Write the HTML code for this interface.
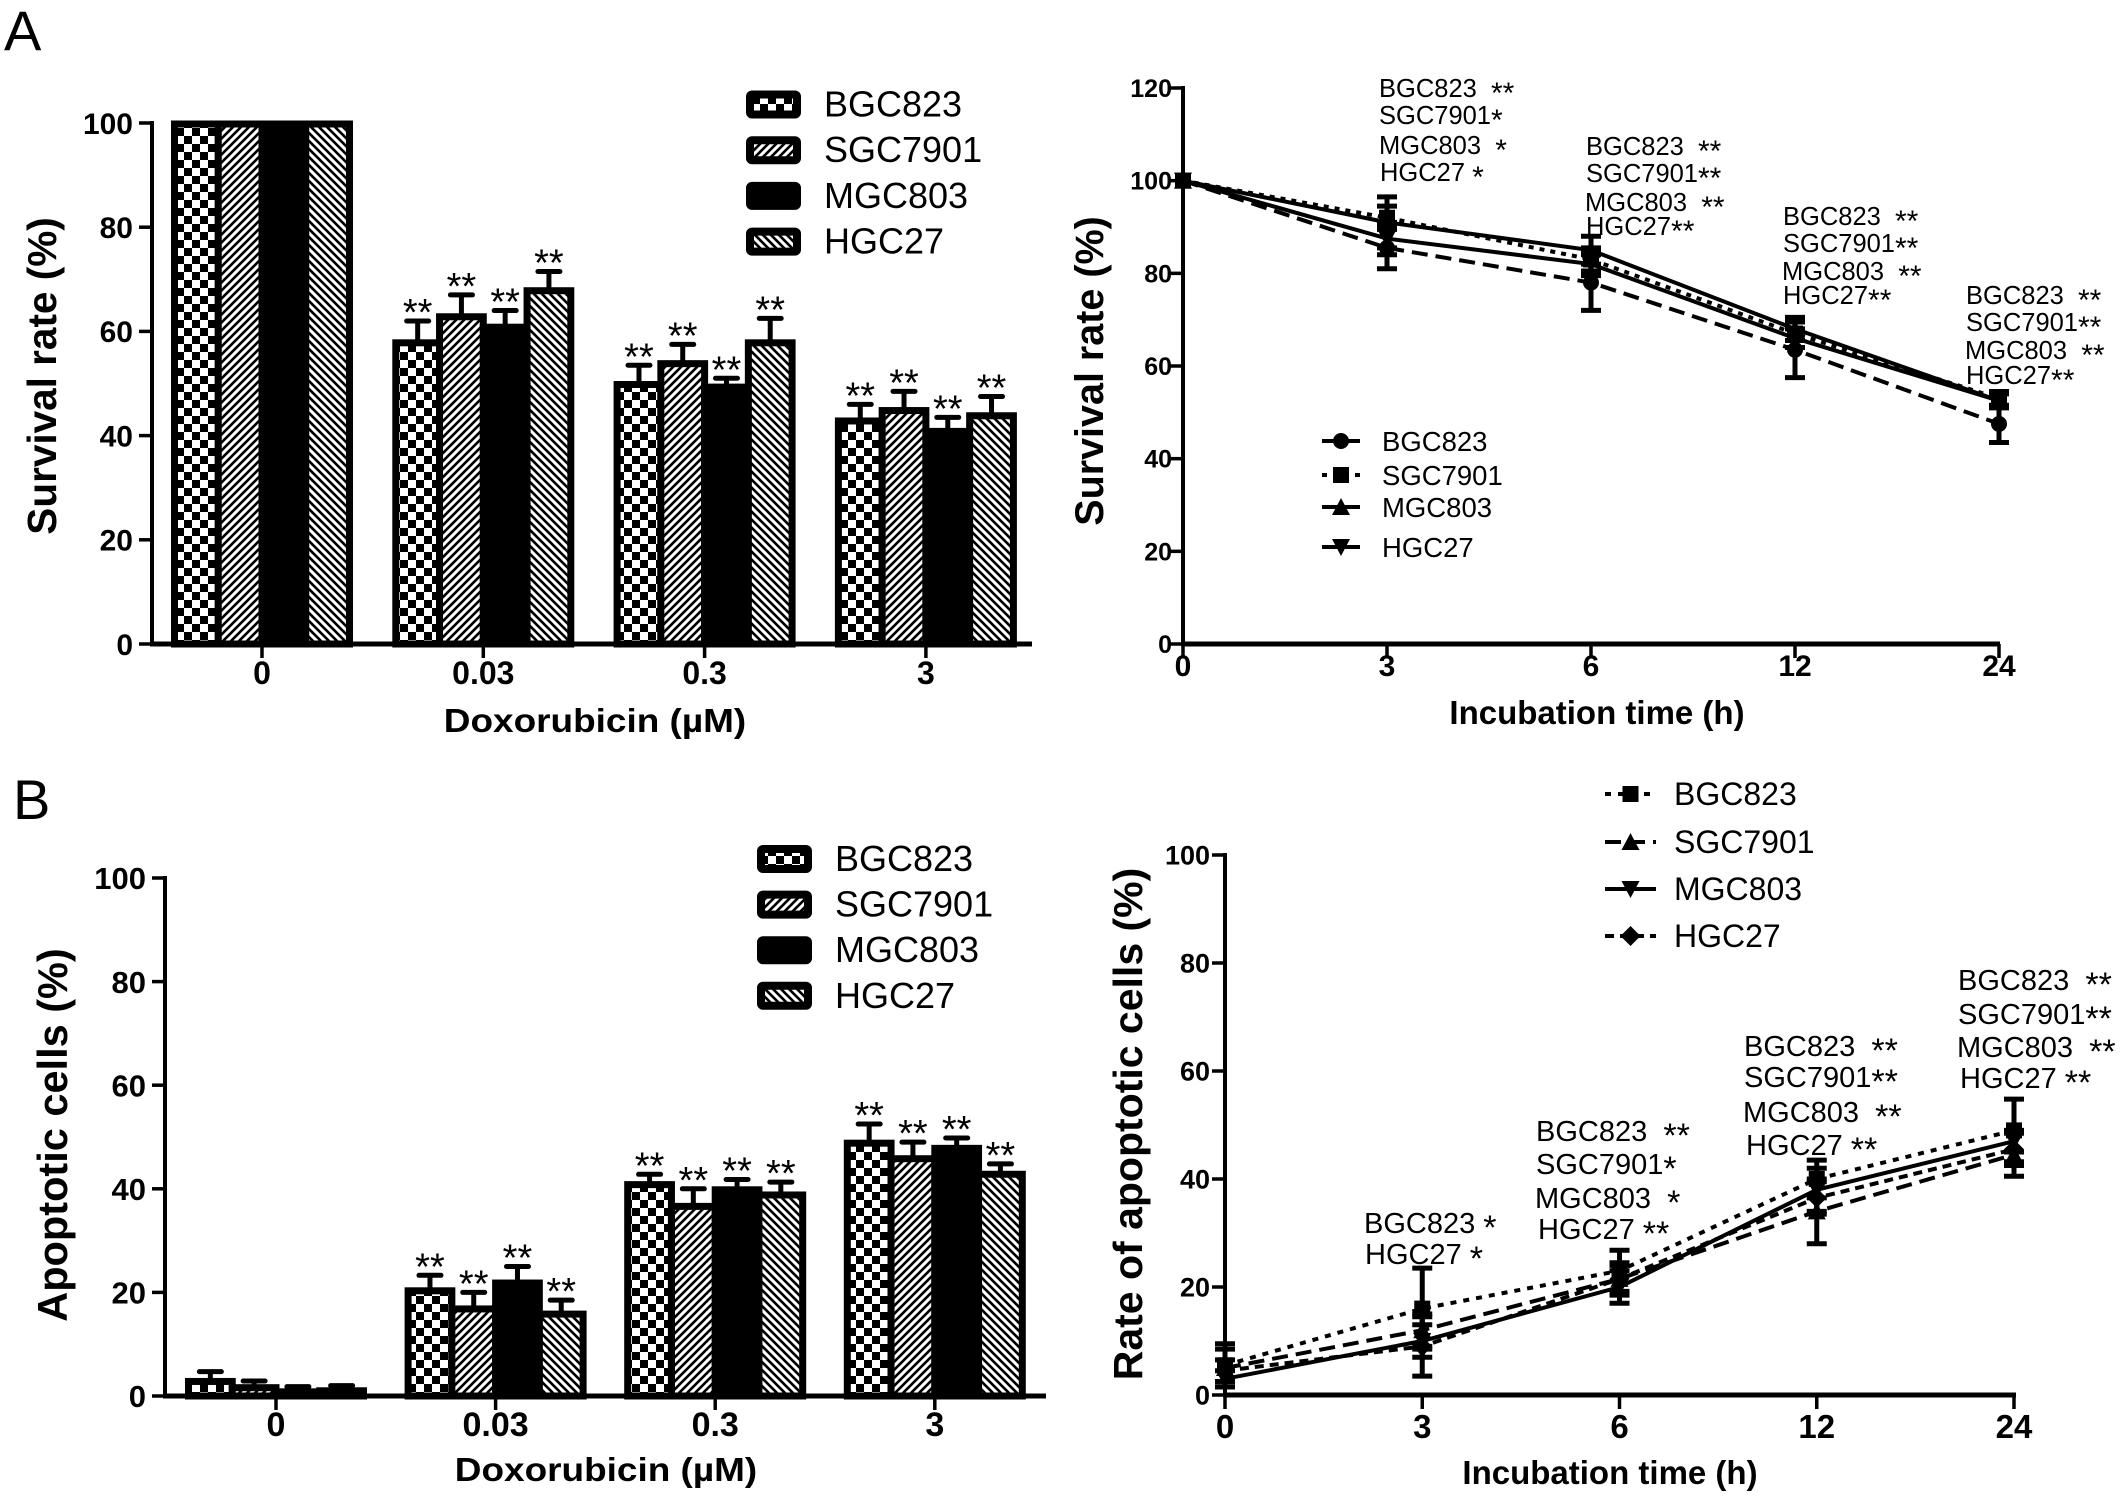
<!DOCTYPE html>
<html lang="en">
<head>
<meta charset="utf-8">
<title>Doxorubicin survival and apoptosis charts</title>
<style>
html,body{margin:0;padding:0;background:#fff;}
#fig{display:block;width:2122px;height:1507px;background:#fff;}
text{font-family:"Liberation Sans",sans-serif;fill:#000;white-space:pre;}
.bold{font-weight:700;}
.a1{font-size:25.5px;}
.a2{font-size:29px;}
.l1{font-size:36px;}
.l2{font-size:27.5px;}
.l3{font-size:32px;}
.s1{font-size:30px;}
.s2{font-size:34px;}
</style>
</head>
<body>
<svg id="fig" width="2122" height="1507" viewBox="0 0 2122 1507">
<defs>
<pattern id="checker" patternUnits="userSpaceOnUse" width="16" height="16"><rect width="16" height="16" fill="#fff"/><rect width="8" height="8" fill="#000"/><rect x="8" y="8" width="8" height="8" fill="#000"/></pattern>
<pattern id="slash" patternUnits="userSpaceOnUse" width="8" height="8"><rect width="8" height="8" fill="#fff"/><path d="M-2 10L10 -2M-2 2L2 -2M6 10L10 6" stroke="#000" stroke-width="2.6"/></pattern>
<pattern id="back" patternUnits="userSpaceOnUse" width="8" height="8"><rect width="8" height="8" fill="#fff"/><path d="M-2 -2L10 10M6 -2L10 2M-2 6L2 10" stroke="#000" stroke-width="2.6"/></pattern>
</defs>

<text x="4" y="50" font-size="56">A</text>
<text x="13" y="819" font-size="56">B</text>

<text class="bold" transform="translate(56,376) rotate(-90)" text-anchor="middle" font-size="40.5">Survival rate (%)</text>
<text class="bold" transform="translate(595,732) scale(1.12,1)" text-anchor="middle" font-size="33">Doxorubicin (µM)</text>
<text class="bold" transform="translate(1103,371) rotate(-90)" text-anchor="middle" font-size="39.5">Survival rate (%)</text>
<text class="bold" x="1597" y="724" text-anchor="middle" font-size="33">Incubation time (h)</text>
<text class="bold" transform="translate(67,1135) rotate(-90)" text-anchor="middle" font-size="41.5">Apoptotic cells (%)</text>
<text class="bold" transform="translate(606,1481) scale(1.12,1)" text-anchor="middle" font-size="33">Doxorubicin (µM)</text>
<text class="bold" transform="translate(1142,1124) rotate(-90)" text-anchor="middle" font-size="41">Rate of apoptotic cells (%)</text>
<text class="bold" x="1610" y="1484" text-anchor="middle" font-size="33">Incubation time (h)</text>

<g>
<text class="a1" x="1379" y="97">BGC823  <tspan class="s1" dy="6">**</tspan></text>
<text class="a1" x="1379" y="124">SGC7901<tspan class="s1" dy="6">*</tspan></text>
<text class="a1" x="1379" y="154">MGC803  <tspan class="s1" dy="6">*</tspan></text>
<text class="a1" x="1380" y="181">HGC27 <tspan class="s1" dy="6">*</tspan></text>
<text class="a1" x="1586" y="155">BGC823  <tspan class="s1" dy="6">**</tspan></text>
<text class="a1" x="1586" y="182">SGC7901<tspan class="s1" dy="6">**</tspan></text>
<text class="a1" x="1585" y="211">MGC803  <tspan class="s1" dy="6">**</tspan></text>
<text class="a1" x="1586" y="235">HGC27<tspan class="s1" dy="6">**</tspan></text>
<text class="a1" x="1783" y="225">BGC823  <tspan class="s1" dy="6">**</tspan></text>
<text class="a1" x="1783" y="252">SGC7901<tspan class="s1" dy="6">**</tspan></text>
<text class="a1" x="1782" y="280">MGC803  <tspan class="s1" dy="6">**</tspan></text>
<text class="a1" x="1783" y="304">HGC27<tspan class="s1" dy="6">**</tspan></text>
<text class="a1" x="1966" y="304">BGC823  <tspan class="s1" dy="6">**</tspan></text>
<text class="a1" x="1966" y="331">SGC7901<tspan class="s1" dy="6">**</tspan></text>
<text class="a1" x="1965" y="359">MGC803  <tspan class="s1" dy="6">**</tspan></text>
<text class="a1" x="1966" y="384">HGC27<tspan class="s1" dy="6">**</tspan></text>
</g>
<g>
<text class="a2" x="1364" y="1233">BGC823 <tspan class="s2" dy="6">*</tspan></text>
<text class="a2" x="1365" y="1264">HGC27 <tspan class="s2" dy="6">*</tspan></text>
<text class="a2" x="1536" y="1141">BGC823  <tspan class="s2" dy="6">**</tspan></text>
<text class="a2" x="1536" y="1174">SGC7901<tspan class="s2" dy="6">*</tspan></text>
<text class="a2" x="1535" y="1208">MGC803  <tspan class="s2" dy="6">*</tspan></text>
<text class="a2" x="1538" y="1239">HGC27 <tspan class="s2" dy="6">**</tspan></text>
<text class="a2" x="1744" y="1056">BGC823  <tspan class="s2" dy="6">**</tspan></text>
<text class="a2" x="1744" y="1087">SGC7901<tspan class="s2" dy="6">**</tspan></text>
<text class="a2" x="1743" y="1122">MGC803  <tspan class="s2" dy="6">**</tspan></text>
<text class="a2" x="1746" y="1155">HGC27 <tspan class="s2" dy="6">**</tspan></text>
<text class="a2" x="1958" y="990">BGC823  <tspan class="s2" dy="6">**</tspan></text>
<text class="a2" x="1958" y="1024">SGC7901<tspan class="s2" dy="6">**</tspan></text>
<text class="a2" x="1957" y="1057">MGC803  <tspan class="s2" dy="6">**</tspan></text>
<text class="a2" x="1960" y="1088">HGC27 <tspan class="s2" dy="6">**</tspan></text>
</g>
<g id="charts"></g>
</svg>
<script>
// ---------- chart data ----------
const cellLines = ['BGC823', 'SGC7901', 'MGC803', 'HGC27'];
const doseLabels = ['0', '0.03', '0.3', '3'];
const timeLabels = ['0', '3', '6', '12', '24'];
const ticksTo100 = [0, 20, 40, 60, 80, 100];
const ticksTo120 = [0, 20, 40, 60, 80, 100, 120];

const survivalBarBgc823 = [100, 58, 50, 43];
const survivalBarSgc7901 = [100, 63, 54, 45];
const survivalBarMgc803 = [100, 61, 49.5, 41];
const survivalBarHgc27 = [100, 68, 58, 44];
const survivalBarErrBgc823 = [0, 4, 3.5, 3];
const survivalBarErrSgc7901 = [0, 4, 3.5, 3.5];
const survivalBarErrMgc803 = [0, 3, 1.5, 2.5];
const survivalBarErrHgc27 = [0, 3.5, 4.5, 3.5];
const survivalBarStars = ['', '**', '**', '**'];

const apoptosisBarBgc823 = [3, 20.5, 41, 49];
const apoptosisBarSgc7901 = [1.8, 17, 36.8, 46];
const apoptosisBarMgc803 = [1, 22, 40, 48];
const apoptosisBarHgc27 = [1.2, 16, 39, 43];
const apoptosisBarErrBgc823 = [1.7, 2.8, 1.8, 3.5];
const apoptosisBarErrSgc7901 = [1.1, 3, 3.2, 3];
const apoptosisBarErrMgc803 = [0.8, 3, 1.8, 1.8];
const apoptosisBarErrHgc27 = [0.8, 2.5, 2.3, 1.8];
const apoptosisBarStars = ['', '**', '**', '**'];

const survivalLineBgc823 = [100, 85.5, 78, 63.5, 47.5];
const survivalLineSgc7901 = [100, 92, 83, 67, 53];
const survivalLineMgc803 = [100, 91, 85, 68, 52.5];
const survivalLineHgc27 = [100, 87.5, 82, 66, 52.5];
const survivalLineErrBgc823 = [0, 4.5, 6, 6, 4];
const survivalLineErrSgc7901 = [0, 2.5, 2.5, 3, 1.5];
const survivalLineErrMgc803 = [0, 5.5, 3, 2.5, 1.5];
const survivalLineErrHgc27 = [0, 3.5, 2.5, 2, 1.5];

const apoptosisLineBgc823 = [5.5, 16, 23, 40, 49];
const apoptosisLineSgc7901 = [5, 12, 21.5, 34, 44.5];
const apoptosisLineMgc803 = [3, 10, 20, 38, 47];
const apoptosisLineHgc27 = [4.5, 9, 21.5, 36.5, 45.5];
const apoptosisLineErrBgc823 = [4, 7.5, 3.8, 3.5, 5.8];
const apoptosisLineErrSgc7901 = [3.5, 3, 3, 6, 4];
const apoptosisLineErrMgc803 = [1.5, 3, 3, 4, 2];
const apoptosisLineErrHgc27 = [2, 5.5, 2.5, 3, 3];

// ---------- helpers ----------
const root = document.getElementById('charts');
const NS = root.namespaceURI;
function mk(parent, tag, attrs, content) {
  const el = document.createElementNS(NS, tag);
  for (const k in attrs) el.setAttribute(k, attrs[k]);
  if (content !== undefined) el.textContent = content;
  parent.appendChild(el);
  return el;
}
function yOf(p, v) { return p.y0 - (v / p.yMax) * (p.y0 - p.yTop); }
function timeX(p, i) { return p.xStart + i * (p.xEnd - p.xStart) / (timeLabels.length - 1); }
function barLeft(p, g, s) { return p.x0 + g * p.groupStep + s * p.barStep; }
function groupCenter(p, g) { return p.x0 + g * p.groupStep + p.barStep * 2; }

function drawAxes(p, name, ticks, xLabels, xPos, tickSize, xBase, xSize) {
  const g = mk(root, 'g', {});
  
  
  const yAxis = mk(g, 'line', {x1: p.axisX, x2: p.axisX, y1: p.yTop - 2, y2: p.y0 + 2, stroke: '#000', 'stroke-width': 4});
  
  
  const xAxis = mk(g, 'line', {x1: p.axisX - 2, x2: p.axisEnd, y1: p.y0, y2: p.y0, stroke: '#000', 'stroke-width': 5});
  
  
  ticks.forEach(function (t) {
    const y = yOf(p, t);
    const tick = mk(g, 'line', {x1: p.axisX - 13, x2: p.axisX, y1: y, y2: y, stroke: '#000', 'stroke-width': 3.5});
    
    
    const label = mk(g, 'text', {x: p.axisX - p.labelGap, y: y + tickSize * 0.36, 'text-anchor': 'end', 'font-size': tickSize, 'class': 'bold'}, String(t));
    
    
  });
  xLabels.forEach(function (l, i) {
    const x = xPos(i);
    const tick = mk(g, 'line', {x1: x, x2: x, y1: p.y0, y2: p.y0 + 14, stroke: '#000', 'stroke-width': 3.5});
    
    
    const label = mk(g, 'text', {x: x, y: xBase, 'text-anchor': 'middle', 'font-size': xSize, 'class': 'bold'}, l);
    
    
  });
}

const barFills = ['url(#checker)', 'url(#slash)', '#000', 'url(#back)'];

function drawBars(p, name, series, errs, stars) {
  const g = mk(root, 'g', {});
  
  
  series.forEach(function (vals, s) {
    vals.forEach(function (v, c) {
      const left = barLeft(p, c, s);
      const mid = left + p.barStep / 2;
      const e = errs[s][c];
      if (e > 0) {
        const topY = yOf(p, v + e);
        const stem = mk(g, 'line', {x1: mid, x2: mid, y1: yOf(p, v), y2: topY, stroke: '#000', 'stroke-width': 5});
        
        
        const cap = mk(g, 'line', {x1: mid - 11, x2: mid + 11, y1: topY, y2: topY, stroke: '#000', 'stroke-width': 5, 'stroke-linecap': 'round'});
        
        
      }
      if (stars[c]) {
        const star = mk(g, 'text', {x: mid, y: yOf(p, v + e) + 4, 'text-anchor': 'middle', 'font-size': 38}, stars[c]);
        
        
      }
    });
  });
  series.forEach(function (vals, s) {
    vals.forEach(function (v, c) {
      const y = Math.min(yOf(p, v) + 1, p.y0);
      const bar = mk(g, 'rect', {x: barLeft(p, c, s), y: y, width: p.barStep, height: Math.max(0, p.y0 - y), fill: barFills[s], stroke: '#000', 'stroke-width': 7});
      
      
    });
  });
}

function drawMarker(parent, kind, x, y) {
  const r = 8;
  let el;
  if (kind === 'circle') el = mk(parent, 'circle', {cx: x, cy: y, r: r, fill: '#000'});
  else if (kind === 'square') el = mk(parent, 'rect', {x: x - r, y: y - r, width: 2 * r, height: 2 * r, fill: '#000'});
  else if (kind === 'up') el = mk(parent, 'polygon', {points: (x - r - 1) + ',' + (y + r) + ' ' + (x + r + 1) + ',' + (y + r) + ' ' + x + ',' + (y - r - 1), fill: '#000'});
  else if (kind === 'down') el = mk(parent, 'polygon', {points: (x - r - 1) + ',' + (y - r) + ' ' + (x + r + 1) + ',' + (y - r) + ' ' + x + ',' + (y + r + 1), fill: '#000'});
  else el = mk(parent, 'polygon', {points: (x - r - 2) + ',' + y + ' ' + x + ',' + (y - r - 2) + ' ' + (x + r + 2) + ',' + y + ' ' + x + ',' + (y + r + 2), fill: '#000'});
  
  
}

function drawLines(p, name, series, errs, markers, dashes) {
  const g = mk(root, 'g', {});
  
  
  series.forEach(function (vals, s) {
    const pts = vals.map(function (v, i) { return timeX(p, i) + ',' + yOf(p, v); }).join(' ');
    const line = mk(g, 'polyline', {points: pts, fill: 'none', stroke: '#000', 'stroke-width': 4, 'stroke-dasharray': dashes[s]});
    
    
    vals.forEach(function (v, i) {
      const x = timeX(p, i);
      const e = errs[s][i];
      if (e > 0) {
        const stem = mk(g, 'line', {x1: x, x2: x, y1: yOf(p, v - e), y2: yOf(p, v + e), stroke: '#000', 'stroke-width': 5});
        
        
        const capTop = mk(g, 'line', {x1: x - 10, x2: x + 10, y1: yOf(p, v + e), y2: yOf(p, v + e), stroke: '#000', 'stroke-width': 5});
        
        
        const capBottom = mk(g, 'line', {x1: x - 10, x2: x + 10, y1: yOf(p, v - e), y2: yOf(p, v - e), stroke: '#000', 'stroke-width': 5});
        
        
      }
      drawMarker(g, markers[s], x, yOf(p, v));
    });
  });
}

function drawBarLegend(name, swatchX, textX, firstY, stepY) {
  const g = mk(root, 'g', {});
  
  
  cellLines.forEach(function (label, i) {
    const cy = firstY + i * stepY;
    const sw = mk(g, 'rect', {x: swatchX + 4, y: cy - 10, width: 47, height: 20, rx: 2, fill: barFills[i], stroke: '#000', 'stroke-width': 8});
    
    
    const t = mk(g, 'text', {x: textX, y: cy + 12, 'class': 'l1'}, label);
    
    
  });
}

function drawLineLegend(name, lineX1, lineX2, textX, rowYs, cls, baseOffset, markers, dashes) {
  const g = mk(root, 'g', {});
  
  
  cellLines.forEach(function (label, i) {
    const cy = rowYs[i];
    const ln = mk(g, 'line', {x1: lineX1, x2: lineX2, y1: cy, y2: cy, stroke: '#000', 'stroke-width': 4, 'stroke-dasharray': dashes[i]});
    
    
    drawMarker(g, markers[i], (lineX1 + lineX2) / 2, cy);
    const t = mk(g, 'text', {x: textX, y: cy + baseOffset, 'class': cls}, label);
    
    
  });
}

// ---------- panel geometry ----------
const survivalBarPanel = {axisX: 152, axisEnd: 1032, yTop: 123, y0: 644, yMax: 100, x0: 174.5, groupStep: 221.3, barStep: 43.75, labelGap: 19};
const apoptosisBarPanel = {axisX: 165, axisEnd: 1046, yTop: 878, y0: 1396, yMax: 100, x0: 188.5, groupStep: 219.6, barStep: 43.75, labelGap: 19};
const survivalLinePanel = {axisX: 1183, axisEnd: 2000, yTop: 88, y0: 644, yMax: 120, xStart: 1183, xEnd: 1999, labelGap: 11};
const apoptosisLinePanel = {axisX: 1225, axisEnd: 2016, yTop: 855, y0: 1395, yMax: 100, xStart: 1225, xEnd: 2014, labelGap: 15};

const survivalMarkers = ['circle', 'square', 'up', 'down'];
const survivalDashes = ['16 8', '5 6', 'none', 'none'];
const apoptosisMarkers = ['square', 'up', 'down', 'diamond'];
const apoptosisDashes = ['6 7', '16 8', 'none', '9 6'];

// ---------- draw ----------
drawAxes(survivalBarPanel, 'survival-bar', ticksTo100, doseLabels, function (i) { return groupCenter(survivalBarPanel, i); }, 30, 684, 32);
drawBars(survivalBarPanel, 'survival',
  [survivalBarBgc823, survivalBarSgc7901, survivalBarMgc803, survivalBarHgc27],
  [survivalBarErrBgc823, survivalBarErrSgc7901, survivalBarErrMgc803, survivalBarErrHgc27],
  survivalBarStars);
drawBarLegend('survival-bar', 746, 824, 104.5, 45.7);

drawAxes(apoptosisBarPanel, 'apoptosis-bar', ticksTo100, doseLabels, function (i) { return groupCenter(apoptosisBarPanel, i); }, 31, 1436, 34);
drawBars(apoptosisBarPanel, 'apoptosis',
  [apoptosisBarBgc823, apoptosisBarSgc7901, apoptosisBarMgc803, apoptosisBarHgc27],
  [apoptosisBarErrBgc823, apoptosisBarErrSgc7901, apoptosisBarErrMgc803, apoptosisBarErrHgc27],
  apoptosisBarStars);
drawBarLegend('apoptosis-bar', 757, 835, 859, 45.6);

drawAxes(survivalLinePanel, 'survival-line', ticksTo120, timeLabels, function (i) { return timeX(survivalLinePanel, i); }, 25, 676, 30);
drawLines(survivalLinePanel, 'survival',
  [survivalLineBgc823, survivalLineSgc7901, survivalLineMgc803, survivalLineHgc27],
  [survivalLineErrBgc823, survivalLineErrSgc7901, survivalLineErrMgc803, survivalLineErrHgc27],
  survivalMarkers, survivalDashes);
drawLineLegend('survival-line', 1322, 1360, 1382, [441, 475, 507, 547], 'l2', 10, survivalMarkers, survivalDashes);

drawAxes(apoptosisLinePanel, 'apoptosis-line', ticksTo100, timeLabels, function (i) { return timeX(apoptosisLinePanel, i); }, 27, 1438, 33);
drawLines(apoptosisLinePanel, 'apoptosis',
  [apoptosisLineBgc823, apoptosisLineSgc7901, apoptosisLineMgc803, apoptosisLineHgc27],
  [apoptosisLineErrBgc823, apoptosisLineErrSgc7901, apoptosisLineErrMgc803, apoptosisLineErrHgc27],
  apoptosisMarkers, apoptosisDashes);
drawLineLegend('apoptosis-line', 1605, 1656, 1674, [794, 842, 889, 936], 'l3', 11, apoptosisMarkers, apoptosisDashes);
</script>
</body>
</html>
